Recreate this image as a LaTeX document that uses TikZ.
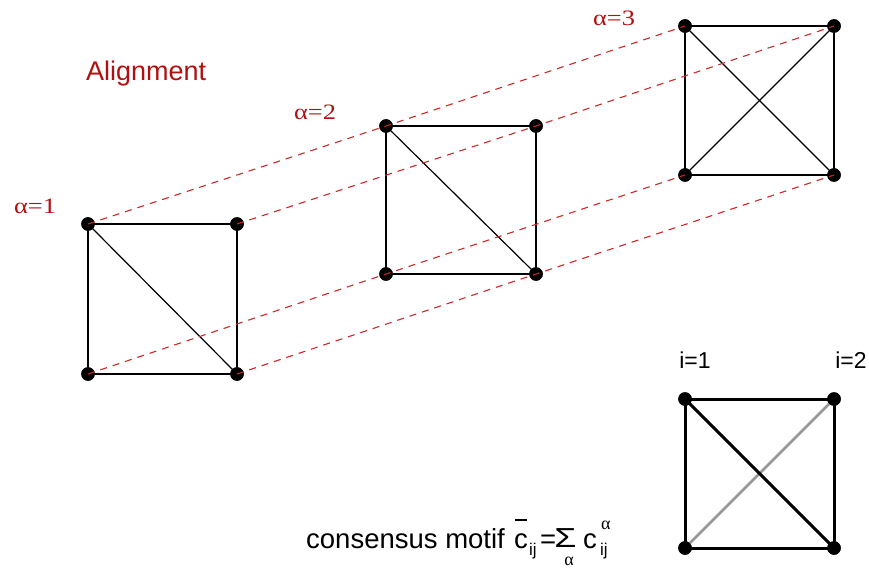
\documentclass[tikz,border=0pt]{standalone}
\usepackage{fontspec}
\setmainfont{Liberation Sans}
\newfontfamily\seriffont{Liberation Serif}
\definecolor{alred}{RGB}{176,16,16}
\definecolor{dashred}{RGB}{204,40,40}
\definecolor{edgegray}{RGB}{150,150,150}
\begin{document}
\begin{tikzpicture}[x=1pt,y=-1pt,
  dot/.style={circle,fill=black,inner sep=0pt,minimum size=13.5pt},
  thinedge/.style={line width=1.2pt,black},
  boldedge/.style={line width=3pt,black},
  grayedge/.style={line width=2.6pt,edgegray},
  align/.style={dashred,line width=1.1pt,dash pattern=on 7pt off 6pt},
  redlabel/.style={alred,font=\seriffont\fontsize{22}{22}\selectfont,xscale=1.2,anchor=base,inner sep=0pt},
  blacklabel/.style={black,font=\fontsize{23}{23}\selectfont,anchor=base,inner sep=0pt},
  formula/.style={black,font=\fontsize{27.5}{28}\selectfont,anchor=base west,inner sep=0pt},
  formsub/.style={black,font=\fontsize{17}{17}\selectfont,anchor=base west,inner sep=0pt},
  formgreek/.style={black,font=\seriffont\fontsize{18}{18}\selectfont,anchor=base,inner sep=0pt}]
\useasboundingbox (0,0) rectangle (869,569);
% square 1
\node[dot] (a1) at (88,224) {};
\node[dot] (b1) at (237,224) {};
\node[dot] (c1) at (88,374) {};
\node[dot] (d1) at (237,374) {};
% square 2
\node[dot] (a2) at (386,126) {};
\node[dot] (b2) at (536,126) {};
\node[dot] (c2) at (386,274) {};
\node[dot] (d2) at (536,274) {};
% square 3
\node[dot] (a3) at (685,26) {};
\node[dot] (b3) at (834,26) {};
\node[dot] (c3) at (685,175) {};
\node[dot] (d3) at (834,175) {};
% consensus
\node[dot] (p) at (685,399) {};
\node[dot] (q) at (834,399) {};
\node[dot] (r) at (685,548) {};
\node[dot] (s) at (834,548) {};

\draw[thinedge] (a1.center) -- (b1.center) -- (d1.center) -- (c1.center) -- cycle;
\draw[thinedge] (a1.center) -- (d1.center);
\draw[thinedge] (a2.center) -- (b2.center) -- (d2.center) -- (c2.center) -- cycle;
\draw[thinedge] (a2.center) -- (d2.center);
\draw[thinedge] (a3.center) -- (b3.center) -- (d3.center) -- (c3.center) -- cycle;
\draw[thinedge] (a3.center) -- (d3.center);
\draw[thinedge] (b3.center) -- (c3.center);

\draw[grayedge] (r.center) -- (q.center);
\draw[boldedge] (p.center) -- (q.center) -- (s.center) -- (r.center) -- cycle;
\draw[boldedge] (p.center) -- (s.center);

\foreach \n in {a1,b1,c1,d1,a2,b2,c2,d2,a3,b3,c3,d3,p,q,r,s}
  \node[dot] at (\n) {};

\draw[align] (a1.center) -- (a2.center) -- (a3.center);
\draw[align] (b1.center) -- (b2.center) -- (b3.center);
\draw[align] (c1.center) -- (c2.center) -- (c3.center);
\draw[align] (d1.center) -- (d2.center) -- (d3.center);

\node[alred,font=\fontsize{27}{27}\selectfont,anchor=base west,inner sep=0pt] (al) at (86,81) {Alignment};
\node[redlabel] (l1) at (35,214) {α=1};
\node[redlabel] (l2) at (315,120) {α=2};
\node[redlabel] (l3) at (614,26) {α=3};
\node[blacklabel] (i1) at (695,368) {i=1};
\node[blacklabel] (i2) at (851,368) {i=2};

% consensus formula
\node[formula] (f) at (306,548) {consensus motif};
\node[formula] (cb) at (514,548) {\rlap{\kern1pt\raisebox{27pt}{\rule{12pt}{1.6pt}}}c};
\node[formsub] (cbs) at (529,555) {ij};
\node[formula] (eq) at (540,548) {=};
\node[formula,xscale=1.3] (sig) at (554,547) {Σ};
\node[formgreek] (siga) at (569,565) {α};
\node[formula] (cc) at (583,548) {c};
\node[formgreek,anchor=base west] (ca) at (601,529) {α};
\node[formsub] (cs) at (600,555) {ij};
\end{tikzpicture}
\end{document}
